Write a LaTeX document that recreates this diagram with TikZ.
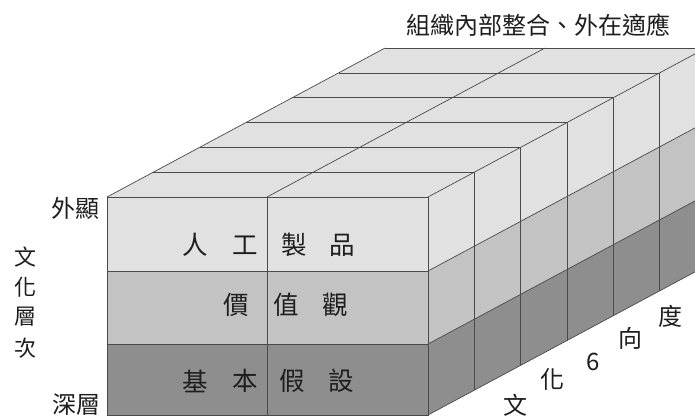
\documentclass[tikz,border=0pt]{standalone}
\usepackage{fontspec}
\newfontfamily\cjk{Noto Sans CJK TC}
\definecolor{lay1}{HTML}{E1E1E1}
\definecolor{lay2}{HTML}{C3C3C3}
\definecolor{lay3}{HTML}{8E8E8E}
\definecolor{edge}{HTML}{4A4A4A}
\definecolor{ink}{HTML}{1E1E1E}
\begin{document}
\begin{tikzpicture}[x=1pt,y=-1pt,
  boxline/.style={draw=edge,line width=0.7pt},
  lbl/.style={font=\cjk\fontsize{24}{24}\selectfont,text=ink,inner sep=0pt},
  big/.style={font=\cjk\fontsize{25.5}{25.5}\selectfont,text=ink,inner sep=0pt},
  ttl/.style={font=\cjk\fontsize{24}{24}\selectfont,text=ink,inner sep=0pt},
  side/.style={font=\cjk\fontsize{22}{22}\selectfont,text=ink,inner sep=0pt}]
\useasboundingbox (0,0) rectangle (695,416);
\clip (0,0) rectangle (695,416);
\def\dx{46.33}\def\dy{-24.83}
% fills
\fill[lay1] (107,197) -- (428,197) -- ({428+6*\dx},{197+6*\dy}) -- ({107+6*\dx},{197+6*\dy}) -- cycle;
\fill[lay1] (107,197) rectangle (428,271);
\fill[lay2] (107,271) rectangle (428,344);
\fill[lay3] (107,344) rectangle (428,415);
\fill[lay1] (428,197) -- ({428+6*\dx},{197+6*\dy}) -- ({428+6*\dx},{271+6*\dy}) -- (428,271) -- cycle;
\fill[lay2] (428,271) -- ({428+6*\dx},{271+6*\dy}) -- ({428+6*\dx},{344+6*\dy}) -- (428,344) -- cycle;
\fill[lay3] (428,344) -- ({428+6*\dx},{344+6*\dy}) -- ({428+6*\dx},{415+6*\dy}) -- (428,415) -- cycle;
% top face lines
\foreach \k in {0,...,6}{
  \draw[boxline] ({107+\k*\dx},{197+\k*\dy}) -- ({428+\k*\dx},{197+\k*\dy});
}
\draw[boxline] (107,197) -- ({107+6*\dx},{197+6*\dy});
\draw[boxline] (267,197) -- ({267+6*\dx},{197+6*\dy});
% right face lines
\foreach \k in {0,...,6}{
  \draw[boxline] ({428+\k*\dx},{197+\k*\dy}) -- ({428+\k*\dx},{415+\k*\dy});
}
\foreach \yy in {197,271,344,415}{
  \draw[boxline] (428,\yy) -- ({428+6*\dx},{\yy+6*\dy});
}
% front face lines
\draw[boxline] (107,197) rectangle (428,415);
\draw[boxline] (107,271) -- (428,271);
\draw[boxline] (107,344) -- (428,344);
\draw[boxline] (267,197) -- (267,415);
% texts
\node[ttl] (title) at (538,25) {組織內部整合、外在適應};
\node[lbl] (outer) at (75,208) {外顯};
\node[lbl] (deep) at (76,405) {深層};
\node[side] (v1) at (25,257) {文};
\node[side] (v2) at (25,287) {化};
\node[side] (v3) at (25,317) {層};
\node[side] (v4) at (25,348) {次};
\node[big] (a1) at (195,245) {人};
\node[big] (a2) at (245,245) {工};
\node[big] (a3) at (294,245) {製};
\node[big] (a4) at (342,245) {品};
\node[big] (b1) at (236,305) {價};
\node[big] (b2) at (286,305) {值};
\node[big] (b3) at (335,305) {觀};
\node[big] (c1) at (195,381) {基};
\node[big] (c2) at (245,381) {本};
\node[big] (c3) at (292,381) {假};
\node[big] (c4) at (341,381) {設};
\node[lbl] (d1) at (515,405) {文};
\node[lbl] (d2) at (552,379) {化};
\node[lbl] (d3) at (593,362) {6};
\node[lbl] (d4) at (630,338) {向};
\node[lbl] (d5) at (670,316) {度};
\end{tikzpicture}
\end{document}
